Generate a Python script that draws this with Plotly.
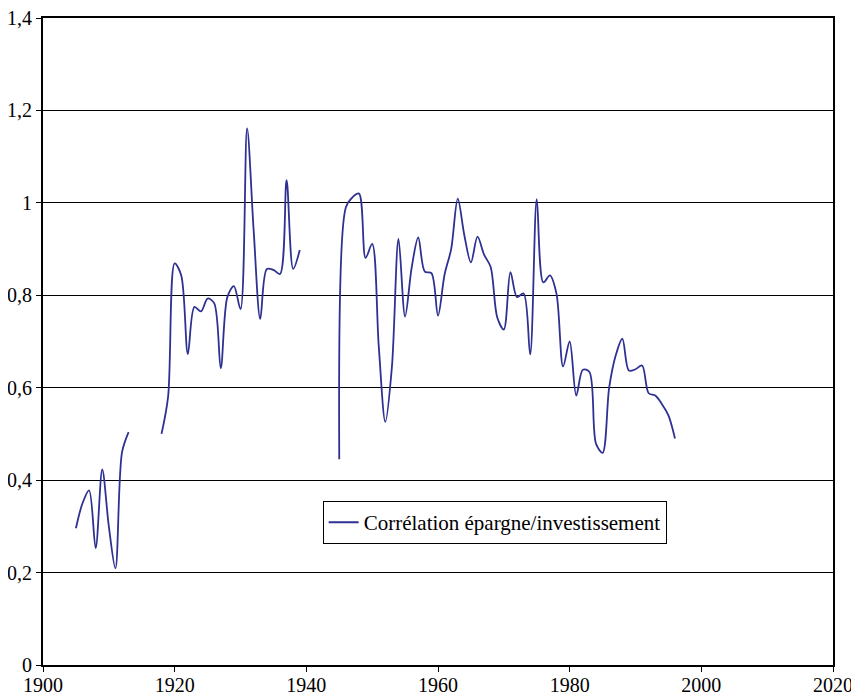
import plotly.graph_objects as go

seg1_years = list(range(1905, 1914))
seg1_vals = [0.296, 0.35, 0.378, 0.253, 0.423, 0.30, 0.209, 0.46, 0.504]

seg2_years = list(range(1918, 1940))
seg2_vals = [0.50, 0.58, 0.869, 0.843, 0.673, 0.775, 0.765, 0.793, 0.783, 0.642,
             0.796, 0.82, 0.770, 1.161, 0.94, 0.749, 0.857, 0.855, 0.846, 1.049,
             0.857, 0.898]

seg3_years = list(range(1945, 1997))
seg3_vals = [0.445, 0.99, 1.012, 1.02, 0.881, 0.911, 0.69, 0.526, 0.645, 0.922,
             0.754, 0.86, 0.925, 0.851, 0.848, 0.756, 0.845, 0.90, 1.009, 0.93,
             0.871, 0.927, 0.888, 0.861, 0.752, 0.726, 0.850, 0.796, 0.804, 0.672,
             1.008, 0.828, 0.843, 0.803, 0.646, 0.70, 0.583, 0.639, 0.634, 0.479,
             0.459, 0.60, 0.67, 0.706, 0.637, 0.64, 0.648, 0.588, 0.583, 0.565,
             0.54, 0.49]

x_ticks = [1900, 1920, 1940, 1960, 1980, 2000, 2020]
y_ticks = [0, 0.2, 0.4, 0.6, 0.8, 1.0, 1.2, 1.4]
y_labels = ["0", "0,2", "0,4", "0,6", "0,8", "1", "1,2", "1,4"]

series_name = "Corrélation épargne/investissement"

x_all, y_all = [], []
for ys, vs in [(seg1_years, seg1_vals), (seg2_years, seg2_vals), (seg3_years, seg3_vals)]:
    x_all += ys + [None]
    y_all += vs + [None]

fig = go.Figure()
fig.add_trace(go.Scatter(
    x=x_all, y=y_all, mode="lines", name=series_name,
    line=dict(color="#2E3192", width=1.8, shape="spline", smoothing=0.9),
    connectgaps=False, showlegend=True,
))

font_family = "Liberation Serif"

# page body has an 8px margin, so the figure is sized to fit the 859x696 window
fig.update_layout(
    width=851, height=688,
    margin=dict(l=35, r=26, t=10, b=31, autoexpand=False),
    paper_bgcolor="white", plot_bgcolor="white",
    font=dict(family=font_family, size=20, color="black"),
    showlegend=True,
    legend=dict(
        x=0.354, y=0.2533, xanchor="left", yanchor="top",
        bordercolor="black", borderwidth=1, bgcolor="white",
        font=dict(family=font_family, size=21, color="black"),
    ),
    xaxis=dict(
        range=[1900, 2020], tickvals=x_ticks, ticktext=[str(v) for v in x_ticks],
        showgrid=False, zeroline=False, automargin=False,
        showline=True, linecolor="black", linewidth=2, mirror=True,
        ticks="outside", ticklen=5, tickcolor="black",
        ticklabeloverflow="allow", ticklabelstandoff=-4,
        tickfont=dict(family=font_family, size=20, color="black"),
    ),
    yaxis=dict(
        range=[0, 1.4], tickvals=y_ticks, ticktext=y_labels,
        showgrid=True, gridcolor="black", gridwidth=1, zeroline=False, automargin=False,
        showline=True, linecolor="black", linewidth=2, mirror=True,
        ticks="outside", ticklen=5, tickcolor="black",
        ticklabeloverflow="allow",
        tickfont=dict(family=font_family, size=20, color="black"),
    ),
)

fig.write_html("out.html")
